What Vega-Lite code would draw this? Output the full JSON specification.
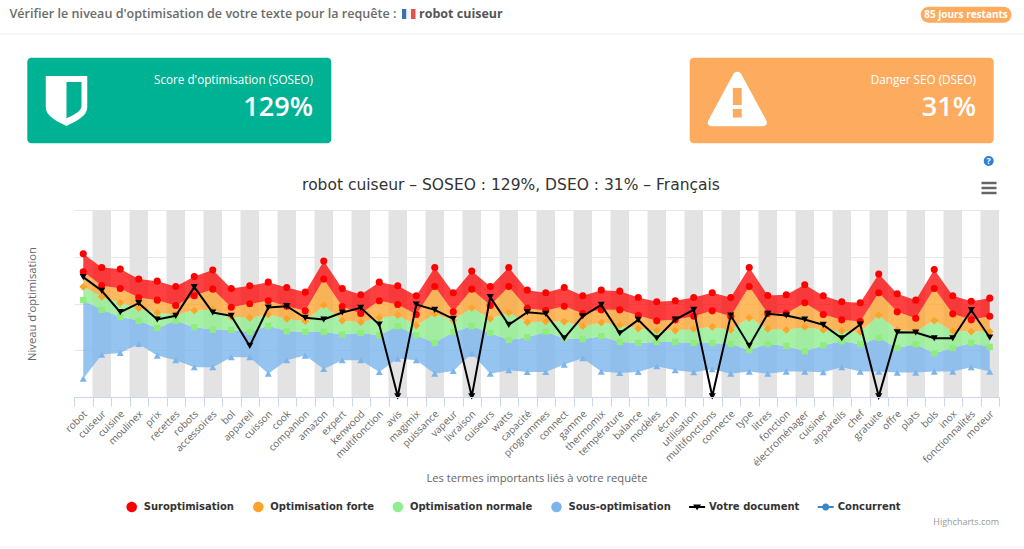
{
"$schema":"https://vega.github.io/schema/vega-lite/v6.json",
"autosize":{"type":"none"},
"width":925,"height":187,
"padding":{"left":74,"top":210,"right":25,"bottom":152},
"background":"#ffffff",
"config":{"view":{"stroke":null}},
"datasets":{
"termes":[
{"terme":"robot","rang":0,"sur_haut":429,"sur_bas":375,"forte_bas":330,"normale_bas":290,"sous_bas":55,"document":359},
{"terme":"cuiseur","rang":1,"sur_haut":388,"sur_bas":334,"forte_bas":300,"normale_bas":261,"sous_bas":127,"document":318},
{"terme":"cuisine","rang":2,"sur_haut":383,"sur_bas":325,"forte_bas":282,"normale_bas":240,"sous_bas":132,"document":254},
{"terme":"moulinex","rang":3,"sur_haut":353,"sur_bas":298,"forte_bas":266,"normale_bas":228,"sous_bas":159,"document":281},
{"terme":"prix","rang":4,"sur_haut":347,"sur_bas":290,"forte_bas":252,"normale_bas":207,"sous_bas":124,"document":232},
{"terme":"recettes","rang":5,"sur_haut":331,"sur_bas":274,"forte_bas":247,"normale_bas":228,"sous_bas":110,"document":243},
{"terme":"robots","rang":6,"sur_haut":361,"sur_bas":303,"forte_bas":259,"normale_bas":209,"sous_bas":89,"document":329},
{"terme":"accessoires","rang":7,"sur_haut":380,"sur_bas":323,"forte_bas":262,"normale_bas":202,"sous_bas":89,"document":253},
{"terme":"bol","rang":8,"sur_haut":325,"sur_bas":269,"forte_bas":240,"normale_bas":201,"sous_bas":119,"document":243},
{"terme":"appareil","rang":9,"sur_haut":333,"sur_bas":279,"forte_bas":237,"normale_bas":195,"sous_bas":119,"document":153},
{"terme":"cuisson","rang":10,"sur_haut":344,"sur_bas":288,"forte_bas":247,"normale_bas":213,"sous_bas":70,"document":268},
{"terme":"cook","rang":11,"sur_haut":328,"sur_bas":272,"forte_bas":234,"normale_bas":197,"sous_bas":110,"document":272},
{"terme":"companion","rang":12,"sur_haut":314,"sur_bas":258,"forte_bas":227,"normale_bas":195,"sous_bas":124,"document":237},
{"terme":"amazon","rang":13,"sur_haut":407,"sur_bas":353,"forte_bas":275,"normale_bas":195,"sous_bas":84,"document":232},
{"terme":"expert","rang":14,"sur_haut":325,"sur_bas":271,"forte_bas":229,"normale_bas":187,"sous_bas":110,"document":253},
{"terme":"kenwood","rang":15,"sur_haut":306,"sur_bas":250,"forte_bas":224,"normale_bas":192,"sous_bas":110,"document":267},
{"terme":"multifonction","rang":16,"sur_haut":344,"sur_bas":288,"forte_bas":237,"normale_bas":185,"sous_bas":75,"document":217},
{"terme":"avis","rang":17,"sur_haut":333,"sur_bas":277,"forte_bas":245,"normale_bas":212,"sous_bas":115,"document":2},
{"terme":"magimix","rang":18,"sur_haut":303,"sur_bas":247,"forte_bas":214,"normale_bas":185,"sous_bas":110,"document":277},
{"terme":"puissance","rang":19,"sur_haut":388,"sur_bas":331,"forte_bas":249,"normale_bas":162,"sous_bas":70,"document":261},
{"terme":"vapeur","rang":20,"sur_haut":312,"sur_bas":255,"forte_bas":229,"normale_bas":195,"sous_bas":78,"document":234},
{"terme":"livraison","rang":21,"sur_haut":377,"sur_bas":323,"forte_bas":267,"normale_bas":212,"sous_bas":130,"document":2},
{"terme":"cuiseurs","rang":22,"sur_haut":331,"sur_bas":274,"forte_bas":234,"normale_bas":192,"sous_bas":70,"document":299},
{"terme":"watts","rang":23,"sur_haut":388,"sur_bas":331,"forte_bas":253,"normale_bas":171,"sous_bas":80,"document":216},
{"terme":"capacité","rang":24,"sur_haut":320,"sur_bas":266,"forte_bas":224,"normale_bas":179,"sous_bas":75,"document":254},
{"terme":"programmes","rang":25,"sur_haut":312,"sur_bas":259,"forte_bas":226,"normale_bas":195,"sous_bas":75,"document":249},
{"terme":"connect","rang":26,"sur_haut":328,"sur_bas":272,"forte_bas":226,"normale_bas":176,"sous_bas":97,"document":176},
{"terme":"gamme","rang":27,"sur_haut":303,"sur_bas":250,"forte_bas":212,"normale_bas":173,"sous_bas":116,"document":242},
{"terme":"thermomix","rang":28,"sur_haut":320,"sur_bas":261,"forte_bas":223,"normale_bas":182,"sous_bas":76,"document":276},
{"terme":"température","rang":29,"sur_haut":317,"sur_bas":261,"forte_bas":215,"normale_bas":165,"sous_bas":72,"document":191},
{"terme":"balance","rang":30,"sur_haut":298,"sur_bas":244,"forte_bas":205,"normale_bas":162,"sous_bas":75,"document":231},
{"terme":"modèles","rang":31,"sur_haut":285,"sur_bas":228,"forte_bas":199,"normale_bas":165,"sous_bas":92,"document":176},
{"terme":"écran","rang":32,"sur_haut":288,"sur_bas":231,"forte_bas":199,"normale_bas":165,"sous_bas":80,"document":232},
{"terme":"utilisation","rang":33,"sur_haut":298,"sur_bas":242,"forte_bas":204,"normale_bas":162,"sous_bas":74,"document":261},
{"terme":"multifonctions","rang":34,"sur_haut":312,"sur_bas":258,"forte_bas":210,"normale_bas":162,"sous_bas":83,"document":2},
{"terme":"connecte","rang":35,"sur_haut":298,"sur_bas":242,"forte_bas":201,"normale_bas":159,"sous_bas":70,"document":244},
{"terme":"type","rang":36,"sur_haut":388,"sur_bas":331,"forte_bas":237,"normale_bas":141,"sous_bas":76,"document":153},
{"terme":"litres","rang":37,"sur_haut":304,"sur_bas":250,"forte_bas":204,"normale_bas":159,"sous_bas":70,"document":249},
{"terme":"fonction","rang":38,"sur_haut":306,"sur_bas":250,"forte_bas":201,"normale_bas":153,"sous_bas":76,"document":244},
{"terme":"électroménager","rang":39,"sur_haut":336,"sur_bas":282,"forte_bas":210,"normale_bas":137,"sous_bas":76,"document":232},
{"terme":"cuisiner","rang":40,"sur_haut":303,"sur_bas":247,"forte_bas":201,"normale_bas":155,"sous_bas":74,"document":216},
{"terme":"appareils","rang":41,"sur_haut":285,"sur_bas":231,"forte_bas":198,"normale_bas":167,"sous_bas":89,"document":176},
{"terme":"chef","rang":42,"sur_haut":282,"sur_bas":226,"forte_bas":195,"normale_bas":158,"sous_bas":76,"document":217},
{"terme":"gratuite","rang":43,"sur_haut":368,"sur_bas":312,"forte_bas":245,"normale_bas":177,"sous_bas":76,"document":2},
{"terme":"offre","rang":44,"sur_haut":309,"sur_bas":255,"forte_bas":201,"normale_bas":147,"sous_bas":73,"document":194},
{"terme":"plats","rang":45,"sur_haut":290,"sur_bas":236,"forte_bas":197,"normale_bas":158,"sous_bas":73,"document":193},
{"terme":"bols","rang":46,"sur_haut":382,"sur_bas":325,"forte_bas":229,"normale_bas":131,"sous_bas":76,"document":176},
{"terme":"inox","rang":47,"sur_haut":303,"sur_bas":249,"forte_bas":198,"normale_bas":147,"sous_bas":76,"document":176},
{"terme":"fonctionnalités","rang":48,"sur_haut":287,"sur_bas":231,"forte_bas":196,"normale_bas":162,"sous_bas":89,"document":260},
{"terme":"moteur","rang":49,"sur_haut":296,"sur_bas":242,"forte_bas":196,"normale_bas":150,"sous_bas":76,"document":178}
],
"series":[{"serie":"Suroptimisation"},{"serie":"Optimisation forte"},{"serie":"Optimisation normale"},{"serie":"Sous-optimisation"},{"serie":"Votre document"},{"serie":"Concurrent"}]
},
"layer":[
{"data":{"name":"termes"},
"encoding":{"x":{"field":"terme","type":"nominal","sort":null,
"scale":{"type":"band","paddingInner":0,"paddingOuter":0,"domain":["robot","cuiseur","cuisine","moulinex","prix","recettes","robots","accessoires","bol","appareil","cuisson","cook","companion","amazon","expert","kenwood","multifonction","avis","magimix","puissance","vapeur","livraison","cuiseurs","watts","capacité","programmes","connect","gamme","thermomix","température","balance","modèles","écran","utilisation","multifonctions","connecte","type","litres","fonction","électroménager","cuisiner","appareils","chef","gratuite","offre","plats","bols","inox","fonctionnalités","moteur"]},
"axis":{"title":"Les termes importants liés à votre requête","titleFont":"Open Sans","titleFontSize":11.2,"titleFontWeight":"normal","titleColor":"#666666","titleY":75,"tickBand":"extent","tickSize":9,"tickColor":"#ccd6eb","domainColor":"#ccd6eb","labelAngle":-45,"labelAlign":"right","labelBaseline":"middle","labelFont":"Open Sans","labelFontSize":10,"labelColor":"#666666","labelOverlap":false,"labelLimit":200,"labelPadding":6,"labelOffset":2,"grid":false}}},
"layer":[
{"transform":[{"filter":"datum.rang % 2 == 1"}],"mark":{"type":"rect","fill":"#e3e3e3"}},
{"mark":{"type":"area","fill":"#7cb5ec","fillOpacity":0.8},"encoding":{"y":{"field":"normale_bas","type":"quantitative","stack":null,"scale":{"domain":[0,560],"nice":false},"axis":{"title":"Niveau d'optimisation","titleFont":"Open Sans","titleFontSize":11.2,"titleFontWeight":"normal","titleColor":"#666666","titleX":-37,"values":[0,140,280,420,560],"labels":false,"ticks":false,"domain":false,"grid":true,"gridColor":"#e6e6e6"}},"y2":{"field":"sous_bas"}}},
{"mark":{"type":"area","fill":"#90ee90","fillOpacity":0.8},"encoding":{"y":{"field":"forte_bas","type":"quantitative","stack":null,"scale":{"domain":[0,560],"nice":false}},"y2":{"field":"normale_bas"}}},
{"mark":{"type":"area","fill":"#ffa229","fillOpacity":0.75},"encoding":{"y":{"field":"sur_bas","type":"quantitative","stack":null,"scale":{"domain":[0,560],"nice":false}},"y2":{"field":"forte_bas"}}},
{"mark":{"type":"area","fill":"#ff0000","fillOpacity":0.75},"encoding":{"y":{"field":"sur_haut","type":"quantitative","stack":null,"scale":{"domain":[0,560],"nice":false}},"y2":{"field":"sur_bas"}}},
{"mark":{"type":"point","shape":"triangle-up","filled":true,"fill":"#7cb5ec","opacity":1,"size":50},"encoding":{"y":{"field":"sous_bas","type":"quantitative","scale":{"domain":[0,560],"nice":false}}}},
{"mark":{"type":"point","shape":"square","filled":true,"fill":"#90ed7d","opacity":1,"size":40},"encoding":{"y":{"field":"normale_bas","type":"quantitative","scale":{"domain":[0,560],"nice":false}}}},
{"mark":{"type":"point","shape":"diamond","filled":true,"fill":"#ffa329","opacity":1,"size":60},"encoding":{"y":{"field":"forte_bas","type":"quantitative","scale":{"domain":[0,560],"nice":false}}}},
{"mark":{"type":"point","shape":"circle","filled":true,"fill":"#ff0000","opacity":1,"size":50},"encoding":{"y":{"field":"sur_bas","type":"quantitative","scale":{"domain":[0,560],"nice":false}}}},
{"mark":{"type":"point","shape":"circle","filled":true,"fill":"#ff0000","opacity":1,"size":50},"encoding":{"y":{"field":"sur_haut","type":"quantitative","scale":{"domain":[0,560],"nice":false}}}},
{"mark":{"type":"line","stroke":"#000000","strokeWidth":2},"encoding":{"y":{"field":"document","type":"quantitative","scale":{"domain":[0,560],"nice":false}}}},
{"mark":{"type":"point","shape":"triangle-down","filled":true,"fill":"#000000","opacity":1,"size":50},"encoding":{"y":{"field":"document","type":"quantitative","scale":{"domain":[0,560],"nice":false}}}}
]},
{"data":{"name":"series"},
"mark":{"type":"point","filled":true,"opacity":0},
"encoding":{
"color":{"field":"serie","type":"nominal","sort":null,"scale":{"domain":["Suroptimisation","Optimisation forte","Optimisation normale","Sous-optimisation","Votre document","Concurrent"],"range":["#ff0000","#ffa229","#90ee90","#7cb5ec","#000000","#3a87c8"]},
"legend":{"title":null,"orient":"none","legendX":48.7,"legendY":288,"direction":"horizontal","columns":6,"gridAlign":"none","columnPadding":14.6,"symbolOpacity":1,"symbolSize":256,"labelFont":"DejaVu Sans","labelFontSize":10,"labelFontWeight":"bold","labelColor":"#333333","labelOffset":3,"labelLimit":200}},
"shape":{"field":"serie","type":"nominal","sort":null,"scale":{"domain":["Suroptimisation","Optimisation forte","Optimisation normale","Sous-optimisation","Votre document","Concurrent"],"range":["M-0.66,0a0.66,0.66 0 1,0 1.32,0a0.66,0.66 0 1,0 -1.32,0Z","M-0.66,0a0.66,0.66 0 1,0 1.32,0a0.66,0.66 0 1,0 -1.32,0Z","M-0.66,0a0.66,0.66 0 1,0 1.32,0a0.66,0.66 0 1,0 -1.32,0Z","M-0.66,0a0.66,0.66 0 1,0 1.32,0a0.66,0.66 0 1,0 -1.32,0Z","M-1,-0.12H1V0.12H-1ZM-0.5,-0.3H0.5L0,0.4Z","M-1,-0.12H-0.4V0.12H-1ZM0.4,-0.12H1V0.12H0.4ZM0,-0.45C0.25,-0.45 0.45,-0.25 0.45,0C0.45,0.25 0.25,0.45 0,0.45C-0.25,0.45 -0.45,0.25 -0.45,0C-0.45,-0.25 -0.25,-0.45 0,-0.45Z"]},
"legend":{"title":null,"orient":"none","legendX":48.7,"legendY":288,"direction":"horizontal","columns":6,"gridAlign":"none","columnPadding":14.6,"symbolOpacity":1,"symbolSize":256,"labelFont":"DejaVu Sans","labelFontSize":10,"labelFontWeight":"bold","labelColor":"#333333","labelOffset":3,"labelLimit":200}}}},
{"data":{"values":[{"trait":"haut"}]},"mark":{"type":"rule","stroke":"#eeeeee","strokeWidth":1,"clip":false},"encoding":{"x":{"value":-74},"x2":{"value":950},"y":{"value":-176}}},
{"data":{"values":[{"trait":"bas"}]},"mark":{"type":"rule","stroke":"#eeeeee","strokeWidth":1,"clip":false},"encoding":{"x":{"value":-74},"x2":{"value":950},"y":{"value":337}}},
{"data":{"values":[{"carte":"SOSEO"}]},"mark":{"type":"rect","fill":"#00b294","cornerRadius":4},"encoding":{"x":{"value":-46.7},"x2":{"value":257.3},"y":{"value":-152.3},"y2":{"value":-66.7}}},
{"data":{"values":[{"carte":"DSEO"}]},"mark":{"type":"rect","fill":"#fcab5f","cornerRadius":4},"encoding":{"x":{"value":615.7},"x2":{"value":919.7},"y":{"value":-152.3},"y2":{"value":-66.7}}},
{"data":{"values":[{"carte":"badge"}]},"mark":{"type":"rect","fill":"#fcab5f","cornerRadius":8},"encoding":{"x":{"value":846.7},"x2":{"value":937.5},"y":{"value":-203.3},"y2":{"value":-187.3}}},
{"data":{"values":[{"icone":"bouclier"}]},"mark":{"type":"point","filled":true,"fill":"#ffffff","opacity":1,"size":2500,"shape":"M-0.83,-1H0.83V0.25C0.83,0.6 0.4,0.8 0,1C-0.4,0.8 -0.83,0.6 -0.83,0.25ZM0,-0.76V0.7C0.3,0.55 0.6,0.4 0.6,0.2V-0.76Z"},"encoding":{"x":{"value":-7.5},"y":{"value":-109}}},
{"data":{"values":[{"icone":"danger"}]},"mark":{"type":"point","filled":true,"fill":"#ffffff","opacity":1,"size":3481,"shape":"M0,-0.92C0.08,-0.92 0.12,-0.88 0.16,-0.8L0.98,0.72C1.04,0.84 0.98,0.92 0.85,0.92H-0.85C-0.98,0.92 -1.04,0.84 -0.98,0.72L-0.16,-0.8C-0.12,-0.88 -0.08,-0.92 0,-0.92ZM-0.15,-0.37V0.2H0.15V-0.37ZM-0.15,0.34V0.63H0.15V0.34Z"},"encoding":{"x":{"value":663.3},"y":{"value":-111}}},
{"data":{"values":[{"icone":"aide"}]},"mark":{"type":"point","shape":"circle","filled":true,"fill":"#2f7ed8","opacity":1,"size":100},"encoding":{"x":{"value":914.7},"y":{"value":-49}}},
{"data":{"values":[{"icone":"menu"}]},"mark":{"type":"point","shape":"M-1,-0.67H1M-1,0H1M-1,0.67H1","filled":false,"stroke":"#666666","strokeWidth":2.6,"opacity":1,"size":225},"encoding":{"x":{"value":915},"y":{"value":-22}}},
{"data":{"values":[{"bande":"bleu"}]},"mark":{"type":"rect","fill":"#3a6fb0"},"encoding":{"x":{"value":328},"x2":{"value":332.5},"y":{"value":-201},"y2":{"value":-191}}},
{"data":{"values":[{"bande":"blanc"}]},"mark":{"type":"rect","fill":"#f4f4f4"},"encoding":{"x":{"value":332.5},"x2":{"value":337},"y":{"value":-201},"y2":{"value":-191}}},
{"data":{"values":[{"bande":"rouge"}]},"mark":{"type":"rect","fill":"#e8504a"},"encoding":{"x":{"value":337},"x2":{"value":341.5},"y":{"value":-201},"y2":{"value":-191}}},
{"data":{"values":[{"texte":"robot cuiseur – SOSEO : 129%, DSEO : 31% – Français"}]},"mark":{"type":"text","font":"DejaVu Sans","fontSize":15.5,"fill":"#333333","align":"center","baseline":"middle"},"encoding":{"text":{"field":"texte"},"x":{"value":437},"y":{"value":-25}}},
{"data":{"values":[{"texte":"Vérifier le niveau d'optimisation de votre texte pour la requête :"}]},"mark":{"type":"text","font":"Open Sans","fontSize":12.6,"fontWeight":600,"fill":"#6b6b6b","align":"left","baseline":"middle"},"encoding":{"text":{"field":"texte"},"x":{"value":-64.5},"y":{"value":-196}}},
{"data":{"values":[{"texte":"robot cuiseur"}]},"mark":{"type":"text","font":"Open Sans","fontSize":12.5,"fontWeight":"bold","fill":"#555555","align":"left","baseline":"middle"},"encoding":{"text":{"field":"texte"},"x":{"value":345},"y":{"value":-196}}},
{"data":{"values":[{"texte":"85 jours restants"}]},"mark":{"type":"text","font":"Open Sans","fontSize":10,"fontWeight":"bold","fill":"#ffffff","align":"center","baseline":"middle"},"encoding":{"text":{"field":"texte"},"x":{"value":892},"y":{"value":-195.5}}},
{"data":{"values":[{"texte":"Score d'optimisation (SOSEO)"}]},"mark":{"type":"text","font":"Open Sans","fontSize":11.7,"fill":"#ffffff","align":"right","baseline":"middle"},"encoding":{"text":{"field":"texte"},"x":{"value":239},"y":{"value":-130}}},
{"data":{"values":[{"texte":"129%"}]},"mark":{"type":"text","font":"Open Sans","fontSize":27,"fontWeight":600,"fill":"#ffffff","align":"right","baseline":"middle"},"encoding":{"text":{"field":"texte"},"x":{"value":239},"y":{"value":-102}}},
{"data":{"values":[{"texte":"Danger SEO (DSEO)"}]},"mark":{"type":"text","font":"Open Sans","fontSize":11.7,"fill":"#ffffff","align":"right","baseline":"middle"},"encoding":{"text":{"field":"texte"},"x":{"value":902},"y":{"value":-130}}},
{"data":{"values":[{"texte":"31%"}]},"mark":{"type":"text","font":"Open Sans","fontSize":27,"fontWeight":600,"fill":"#ffffff","align":"right","baseline":"middle"},"encoding":{"text":{"field":"texte"},"x":{"value":902},"y":{"value":-102}}},
{"data":{"values":[{"texte":"?"}]},"mark":{"type":"text","font":"Open Sans","fontSize":9,"fontWeight":"bold","fill":"#ffffff","align":"center","baseline":"middle"},"encoding":{"text":{"field":"texte"},"x":{"value":914.7},"y":{"value":-49}}},
{"data":{"values":[{"texte":"Highcharts.com"}]},"mark":{"type":"text","font":"Open Sans","fontSize":9,"fill":"#999999","align":"right","baseline":"middle"},"encoding":{"text":{"field":"texte"},"x":{"value":925},"y":{"value":312}}}
]
}
